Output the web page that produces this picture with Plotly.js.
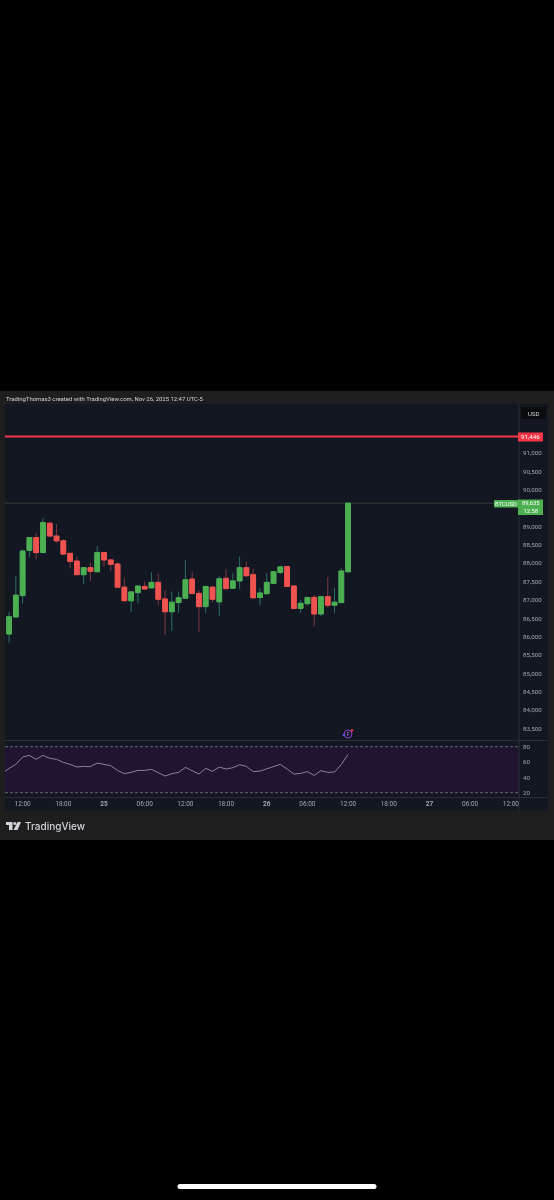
<!DOCTYPE html>
<html><head><meta charset="utf-8">
<script src="https://cdn.plot.ly/plotly-3.0.1.min.js"></script>
<style>html,body{margin:0;padding:0;background:#000}#c{width:554px;height:1200px;filter:blur(0.3px)}</style>
</head><body><div id="c"></div>
<script>
const times=["2025-11-24 10:00","2025-11-24 11:00","2025-11-24 12:00","2025-11-24 13:00","2025-11-24 14:00","2025-11-24 15:00","2025-11-24 16:00","2025-11-24 17:00","2025-11-24 18:00","2025-11-24 19:00","2025-11-24 20:00","2025-11-24 21:00","2025-11-24 22:00","2025-11-24 23:00",
"2025-11-25 00:00","2025-11-25 01:00","2025-11-25 02:00","2025-11-25 03:00","2025-11-25 04:00","2025-11-25 05:00","2025-11-25 06:00","2025-11-25 07:00","2025-11-25 08:00","2025-11-25 09:00","2025-11-25 10:00","2025-11-25 11:00","2025-11-25 12:00","2025-11-25 13:00","2025-11-25 14:00","2025-11-25 15:00","2025-11-25 16:00","2025-11-25 17:00","2025-11-25 18:00","2025-11-25 19:00","2025-11-25 20:00","2025-11-25 21:00","2025-11-25 22:00","2025-11-25 23:00",
"2025-11-26 00:00","2025-11-26 01:00","2025-11-26 02:00","2025-11-26 03:00","2025-11-26 04:00","2025-11-26 05:00","2025-11-26 06:00","2025-11-26 07:00","2025-11-26 08:00","2025-11-26 09:00","2025-11-26 10:00","2025-11-26 11:00","2025-11-26 12:00"];
const opens=[86075,86540,87120,88350,88700,88290,89090,88740,88610,88270,88060,87690,87880,87770,88290,88090,87980,87350,86980,87200,87370,87330,87480,87030,86680,86930,87050,87570,87180,86820,87350,86950,87590,87320,87520,87880,87690,87070,87170,87450,87750,87910,87380,86770,86900,87070,86620,87090,86860,86930,87770];
const closes=[86546,87130,88330,88700,88290,89110,88740,88610,88250,88050,87690,87880,87780,88290,88090,87970,87350,86980,87220,87380,87300,87480,87020,86680,86940,87060,87550,87180,86820,87370,87020,87580,87310,87520,87880,87660,87060,87190,87480,87770,87900,87370,86770,86910,87070,86620,87090,86860,86940,87790,89635];
const highs=[86680,87650,88370,88700,88830,89230,89110,89060,88650,88280,88180,87880,88010,88470,88290,88100,88030,87590,87220,87380,87500,87750,87710,87270,87230,87230,88090,87770,87270,87370,87360,87650,87830,87730,88180,88040,87850,87320,87730,87770,87930,87920,87380,87000,87070,87140,87090,87630,87320,87860,89635];
const lows=[85840,86540,86910,88150,88110,88280,88740,88560,88220,87860,87670,87430,87520,87770,87910,87790,87350,86980,86670,86910,87300,87330,86860,86050,86160,86650,87040,87140,86140,86650,86930,86560,87310,87320,87290,87660,87060,86860,87170,87450,87690,87370,86750,86650,86850,86290,86560,86790,86650,86930,87740];
const rsiTimes=["2025-11-24 09:00"].concat(times);
const rsi=[45.2,51.7,56.9,66.5,68.7,63.5,68.7,64.8,63.5,59.5,56.9,53.5,54.3,53.9,58.7,56.9,55.2,49.1,44.8,46.5,49.1,49.1,50.4,46.1,41.7,44.8,46.5,53.0,48.7,44.3,51.7,47.8,53.5,50.9,52.6,56.5,54.3,47.4,48.2,50.9,54.3,56.9,50.9,44.3,45.2,47.4,42.6,48.7,46.5,46.9,56.9,70.0];
const priceTicks=[83500,84000,84500,85000,85500,86000,86500,87000,87500,88000,88500,89000,90000,90500,91000];
const priceTickLabels=["83,500","84,000","84,500","85,000","85,500","86,000","86,500","87,000","87,500","88,000","88,500","89,000","90,000","90,500","91,000"];
const rsiTicks=[20,40,60,80];
const timeTicks=["2025-11-24 12:00","2025-11-24 18:00","2025-11-25 00:00","2025-11-25 06:00","2025-11-25 12:00","2025-11-25 18:00","2025-11-26 00:00","2025-11-26 06:00","2025-11-26 12:00","2025-11-26 18:00","2025-11-27 00:00","2025-11-27 06:00","2025-11-27 12:00"];
const timeLabels=["12:00","18:00","<b>25</b>","06:00","12:00","18:00","<b>26</b>","06:00","12:00","18:00","<b>27</b>","06:00","12:00"];
const levelPrice=91446, lastPrice=89635;

const W=554,H=1200;
const X=p=>p/W, Y=p=>1-p/H;
const GREEN='#4caf50',RED='#ef5350',AXIS='#a4a7b0',FONT='Roboto, "Liberation Sans", sans-serif';
const rect=(x0,y0,x1,y1,c,layer)=>({type:'rect',xref:'paper',yref:'paper',x0:X(x0),x1:X(x1),y0:Y(y0),y1:Y(y1),fillcolor:c,line:{width:0},layer:layer||'below'});
const circ=(cx,cy,r,fill,lc,lw)=>({type:'circle',xref:'paper',yref:'paper',x0:X(cx-r),x1:X(cx+r),y0:Y(cy+r),y1:Y(cy-r),fillcolor:fill,line:{color:lc||fill,width:lw||0},layer:'above'});
const seg=(x0,y0,x1,y1,c,w,layer)=>({type:'line',xref:'paper',yref:'paper',x0:X(x0),x1:X(x1),y0:Y(y0),y1:Y(y1),line:{color:c,width:w||1},layer:layer||'below'});
const poly=(pts,c)=>({type:'path',xref:'paper',yref:'paper',path:'M'+pts.map(p=>X(p[0])+' '+Y(p[1])).join(' L')+' Z',fillcolor:c,line:{width:0},layer:'above'});
const label=(x,y,text,size,color,anchor,extra)=>Object.assign({xref:'paper',yref:'paper',x:X(x),y:Y(y),text,showarrow:false,xanchor:anchor||'left',yanchor:'middle',font:{size,color,family:FONT},borderpad:0},extra||{});

const common={x:times,xaxis:'x',yaxis:'y',type:'candlestick',hoverinfo:'skip',showlegend:false,whiskerwidth:0};
const data=[
 Object.assign({},common,{open:opens,close:closes,high:highs,low:lows,
   increasing:{line:{color:'#2c6e66',width:1},fillcolor:GREEN},decreasing:{line:{color:'#7c3a40',width:1},fillcolor:RED}}),
 Object.assign({},common,{open:opens,close:closes,
   high:opens.map((o,i)=>Math.max(o,closes[i])),low:opens.map((o,i)=>Math.min(o,closes[i])),
   increasing:{line:{color:GREEN,width:1},fillcolor:GREEN},decreasing:{line:{color:RED,width:1},fillcolor:RED}}),
 {x:rsiTimes,y:rsi,xaxis:'x',yaxis:'y2',type:'scatter',mode:'lines',line:{color:'#8f7f9f',width:1},hoverinfo:'skip',showlegend:false}
];
const layout={
 width:W,height:H,margin:{l:0,r:0,t:0,b:0},paper_bgcolor:'#000',plot_bgcolor:'rgba(0,0,0,0)',
 font:{family:FONT,color:AXIS},boxmode:'overlay',boxgap:0.3,boxgroupgap:0,
 xaxis:{domain:[X(5),X(519)],anchor:'y2',type:'date',range:["2025-11-24 09:24","2025-11-27 13:12"],tickmode:'array',tickvals:timeTicks,ticktext:timeLabels,tickfont:{size:6.5,color:AXIS},ticklen:0,showgrid:false,zeroline:false,showline:false,rangeslider:{visible:false},tickangle:0,ticklabelstandoff:1},
 yaxis:{domain:[Y(740),Y(404)],anchor:'x',side:'right',range:[83191,92333],tickmode:'array',tickvals:priceTicks,ticktext:priceTickLabels,tickfont:{size:6.2,color:AXIS},ticklen:0,showgrid:false,zeroline:false,showline:false,ticklabelstandoff:3},
 yaxis2:{domain:[Y(797),Y(741)],anchor:'x',side:'right',range:[14.4,87.4],tickmode:'array',tickvals:rsiTicks,tickfont:{size:6.2,color:AXIS},ticklen:0,showgrid:false,zeroline:false,showline:false,ticklabelstandoff:3},
 shapes:[
  rect(0,391,554,840,'#1e1e1e'),
  rect(5,404,548,811,'#131722'),
  {type:'rect',xref:'x domain',yref:'y2',x0:0,x1:1,y0:20,y1:80,fillcolor:'#201430',line:{width:0},layer:'below'},
  {type:'line',xref:'x domain',yref:'y2',x0:0,x1:1,y0:80,y1:80,line:{color:'#787b86',width:0.8,dash:'3px,2px'},layer:'below'},
  {type:'line',xref:'x domain',yref:'y2',x0:0,x1:1,y0:20,y1:20,line:{color:'#787b86',width:0.8,dash:'3px,2px'},layer:'below'},
  seg(5,740.5,548,740.5,'#2a2e39'),
  seg(5,797.5,548,797.5,'#2a2e39'),
  seg(519,404,519,811,'#2a2e39'),
  {type:'line',xref:'x domain',yref:'y',x0:0,x1:1,y0:lastPrice,y1:lastPrice,line:{color:'#2f3d38',width:1},layer:'below'},
  {type:'line',xref:'x domain',yref:'y',x0:0,x1:1,y0:levelPrice,y1:levelPrice,line:{color:'#f23645',width:2},layer:'above'},
  rect(519.5,798,548,811,'#131722','above'),
  rect(521,407,546,419,'#0a0c10','above'),
  rect(518,432.5,543,441.5,'#f23645','above'),
  rect(494,500,518,507.5,GREEN,'above'),
  rect(518,499.5,543,515,GREEN,'above'),
  circ(348,734,4,'rgba(0,0,0,0)','#8e44c4',1),
  circ(352,730.5,1.3,'#f23645'),
  circ(344,735,1.3,'#5e5ce6'),
  rect(6,822,12.5,825,'#d1d4dc','above'),rect(9,825,12.5,830,'#d1d4dc','above'),
  circ(14.7,823.5,1.5,'#d1d4dc'),
  poly([[17.5,822],[21,822],[17.5,830],[13.5,830]],'#d1d4dc'),
  rect(180,1184,374,1189,'#ffffff','above'),
  circ(180,1186.5,2.5,'#ffffff'),circ(374,1186.5,2.5,'#ffffff')
 ],
 annotations:[
  label(5,398,'TradingThomas3 created with TradingView.com, Nov 26, 2025 12:47 UTC-5',5.95,'#d1d4dc'),
  label(533.5,413,'USD',6,'#d1d4dc','center'),
  label(530.5,437,'91,446',6.2,'#ffffff','center'),
  label(506,503.8,'BTCUSD',5.8,'#ffffff','center'),
  label(530.5,507,'89,635<br>12:58',5.8,'#ffffff','center'),
  label(348,734,'F',5,'#c77dff','center'),
  label(24,826,'TradingView',10,'#d1d4dc','left',{font:{size:10,color:'#d1d4dc',family:'Inter, Roboto, sans-serif',weight:500}})
 ]
};
Plotly.newPlot('c',data,layout,{staticPlot:true,displayModeBar:false});
</script></body></html>
